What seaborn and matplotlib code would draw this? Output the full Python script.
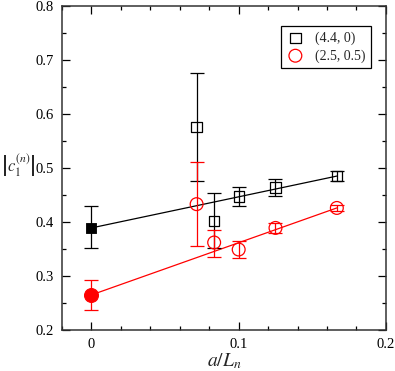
import matplotlib
matplotlib.use("Agg")
import matplotlib.pyplot as plt
import seaborn as sns
from matplotlib.ticker import MultipleLocator

# data
x_vals = [1 / 14, 1 / 12, 0.1, 0.125, 1 / 6]
black_y = [0.576, 0.402, 0.447, 0.464, 0.485]
black_err_lo = [0.100, 0.050, 0.018, 0.015, 0.010]
black_err_hi = [0.100, 0.052, 0.018, 0.015, 0.010]
red_y = [0.433, 0.362, 0.349, 0.389, 0.426]
red_err_lo = [0.078, 0.027, 0.016, 0.010, 0.005]
red_err_hi = [0.078, 0.023, 0.016, 0.010, 0.005]

black_extrap = 0.389
black_extrap_err = [0.037, 0.040]
red_extrap = 0.265
red_extrap_err = [0.028, 0.028]

fit_x = [0.0, 1 / 6]
black_fit = [0.389, 0.485]
red_fit = [0.265, 0.426]

labels = ["(4.4, 0)", "(2.5, 0.5)"]

sns.set_style("ticks")
plt.rcParams["font.family"] = ["Liberation Serif", "DejaVu Serif"]
plt.rcParams["mathtext.fontset"] = "stix"

fig = plt.figure(figsize=(3.95, 3.71), dpi=100)
ax = fig.add_axes([0.157, 0.1105, 0.82, 0.8735])

# fit lines
sns.lineplot(x=fit_x, y=black_fit, color="black", lw=0.9, ax=ax)
sns.lineplot(x=fit_x, y=red_fit, color="red", lw=0.9, ax=ax)

# error bars
ax.errorbar(x_vals, black_y, yerr=[black_err_lo, black_err_hi], fmt="none",
            ecolor="black", elinewidth=0.9, capsize=5, capthick=0.9)
ax.errorbar(x_vals, red_y, yerr=[red_err_lo, red_err_hi], fmt="none",
            ecolor="red", elinewidth=0.9, capsize=5, capthick=0.9)
ax.errorbar([0.0], [black_extrap], yerr=[[black_extrap_err[0]], [black_extrap_err[1]]],
            fmt="none", ecolor="black", elinewidth=0.9, capsize=5, capthick=0.9)
ax.errorbar([0.0], [red_extrap], yerr=[[red_extrap_err[0]], [red_extrap_err[1]]],
            fmt="none", ecolor="red", elinewidth=0.9, capsize=5, capthick=0.9)

# open markers
sns.scatterplot(x=x_vals, y=black_y, marker="s", s=55, facecolor="none",
                edgecolor="black", linewidth=0.9, ax=ax, label=labels[0], zorder=5)
sns.scatterplot(x=x_vals, y=red_y, marker="o", s=85, facecolor="none",
                edgecolor="red", linewidth=0.9, ax=ax, label=labels[1], zorder=5)

# filled extrapolated points
sns.scatterplot(x=[0.0], y=[black_extrap], marker="s", s=60, color="black",
                edgecolor="black", ax=ax, zorder=6)
sns.scatterplot(x=[0.0], y=[red_extrap], marker="o", s=100, color="red",
                edgecolor="red", ax=ax, zorder=6)

ax.set_xlim(-0.02, 0.2)
ax.set_ylim(0.2, 0.8)
ax.xaxis.set_minor_locator(MultipleLocator(0.02))
ax.yaxis.set_minor_locator(MultipleLocator(0.05))
ax.set_xticks([0, 0.1, 0.2])
ax.set_xticklabels(["0", "0.1", "0.2"])
ax.set_yticks([0.2, 0.3, 0.4, 0.5, 0.6, 0.7, 0.8])
ax.set_yticklabels(["0.2", "0.3", "0.4", "0.5", "0.6", "0.7", "0.8"])
ax.tick_params(which="both", direction="in", top=True, right=True,
               labelsize=10.5, width=0.9, colors="black", pad=6)
ax.tick_params(which="major", length=6)
ax.tick_params(which="minor", length=3)
for sp in ax.spines.values():
    sp.set_linewidth(1.1)
    sp.set_color("#333333")

ax.set_xlabel(r"$a/L_n$", fontsize=14, labelpad=0)
ax.set_ylabel("")
fig.text(1 / 395, 1 - 166 / 371, r"$\left|c_1^{(n)}\right|$", fontsize=12,
         ha="left", va="center")

leg = ax.legend(loc="upper right", bbox_to_anchor=(0.975, 0.96), fontsize=10,
                frameon=True, fancybox=False, edgecolor="black", framealpha=1,
                handletextpad=0.8, borderpad=0.4, labelspacing=0.3,
                handlelength=1.2)
leg.get_frame().set_linewidth(0.9)

fig.savefig("out.png", dpi=100)
plt.close(fig)
